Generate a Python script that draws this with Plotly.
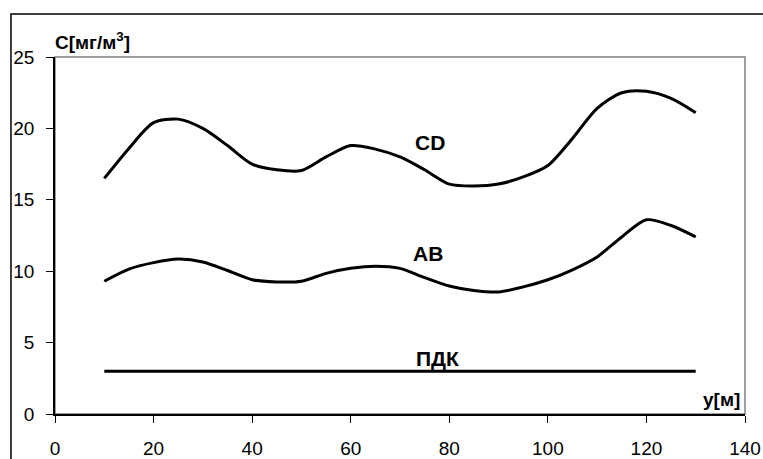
import plotly.graph_objects as go

x_vals = [10, 15, 20, 25, 30, 35, 40, 45, 50, 55, 60, 65, 70, 75, 80, 85, 90, 95, 100, 105, 110, 115, 120, 125, 130]
cd_vals = [16.5, 18.6, 20.4, 20.65, 20.0, 18.8, 17.5, 17.1, 17.05, 18.0, 18.8, 18.55, 18.0, 17.1, 16.1, 15.97, 16.1, 16.6, 17.4, 19.3, 21.4, 22.5, 22.6, 22.1, 21.1]
ab_vals = [9.3, 10.15, 10.6, 10.85, 10.65, 10.05, 9.4, 9.25, 9.3, 9.85, 10.2, 10.35, 10.2, 9.55, 8.96, 8.65, 8.55, 8.9, 9.4, 10.1, 11.0, 12.4, 13.6, 13.2, 12.4]
pdk_x = [10, 130]
pdk_vals = [3, 3]

x_ticks = [0, 20, 40, 60, 80, 100, 120, 140]
y_ticks = [0, 5, 10, 15, 20, 25]

FONT = "Liberation Sans, Arial, sans-serif"

fig = go.Figure()
line = dict(color="black", width=3, shape="spline", smoothing=0.8)
fig.add_trace(go.Scatter(x=x_vals, y=cd_vals, mode="lines", line=line, hoverinfo="skip"))
fig.add_trace(go.Scatter(x=x_vals, y=ab_vals, mode="lines", line=line, hoverinfo="skip"))
fig.add_trace(go.Scatter(x=pdk_x, y=pdk_vals, mode="lines", line=dict(color="black", width=3), hoverinfo="skip"))

lab = dict(family=FONT, size=21, color="black", weight="bold")
fig.add_annotation(x=76, y=18.98, text="CD", showarrow=False, font=lab)
fig.add_annotation(x=75.7, y=11.27, text="AB", showarrow=False, font=lab)
fig.add_annotation(x=77.7, y=3.92, text="ПДК", showarrow=False, font=lab)
fig.add_annotation(x=139.4, y=1.05, text="y[м]", showarrow=False, xanchor="right", font=dict(family=FONT, size=19, color="black", weight="bold"))
fig.add_annotation(xref="paper", yref="paper", x=-0.003, y=1.045, xanchor="left", yanchor="middle",
                   text="C[мг/м<sup>3</sup>]", showarrow=False, font=dict(family=FONT, size=19, color="black", weight="bold"))

# plot-area border (gray) and outer chart frame
fig.add_shape(type="rect", xref="paper", yref="paper", x0=0, x1=1, y0=0, y1=1,
              line=dict(color="#808080", width=1.5), layer="below")
fig.add_shape(type="rect", xref="paper", yref="paper", x0=-0.0638, x1=1.2, y0=-0.3, y1=1.1204,
              line=dict(color="black", width=1.5), layer="below")

fig.update_xaxes(range=[0, 140], tickvals=x_ticks, ticks="outside", ticklen=7, tickcolor="black",
                 showline=True, linecolor="black", linewidth=1.5, showgrid=False, zeroline=False,
                 automargin=False,
                 tickfont=dict(family=FONT, size=19, color="black"), ticklabelstandoff=9)
fig.update_yaxes(range=[0, 25], tickvals=y_ticks, ticks="outside", ticklen=7, tickcolor="black",
                 showline=True, linecolor="black", linewidth=1.5, showgrid=False, zeroline=False,
                 automargin=False,
                 tickfont=dict(family=FONT, size=19, color="black"), ticklabelstandoff=8)

fig.update_layout(width=763, height=459, autosize=False, margin=dict(l=55, r=18, t=57, b=45, pad=0),
                  paper_bgcolor="white", plot_bgcolor="white", showlegend=False)

fig.write_html("out.html", config={"responsive": False, "displayModeBar": False},
               post_script="document.body.style.margin='0';document.body.style.overflow='hidden';")
